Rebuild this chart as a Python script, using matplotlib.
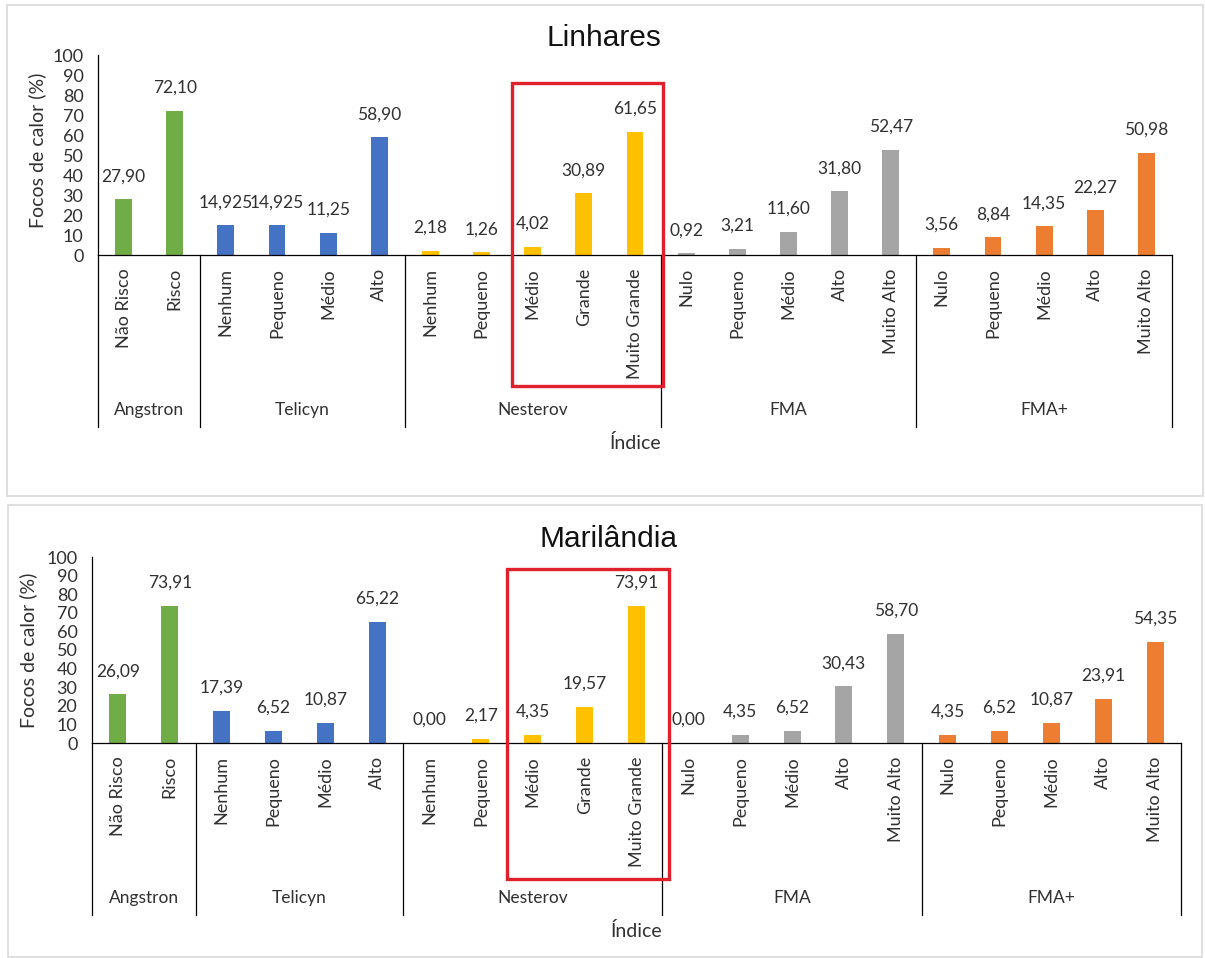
import matplotlib
matplotlib.use("Agg")
import matplotlib.pyplot as plt
from matplotlib.patches import Rectangle
from matplotlib.lines import Line2D

# ---- data -------------------------------------------------------------
groups = ["Angstron", "Telicyn", "Nesterov", "FMA", "FMA+"]
group_classes = [
    ["Não Risco", "Risco"],
    ["Nenhum", "Pequeno", "Médio", "Alto"],
    ["Nenhum", "Pequeno", "Médio", "Grande", "Muito Grande"],
    ["Nulo", "Pequeno", "Médio", "Alto", "Muito Alto"],
    ["Nulo", "Pequeno", "Médio", "Alto", "Muito Alto"],
]
group_colors = ["#70AD47", "#4472C4", "#FFC000", "#A5A5A5", "#ED7D31"]

linhares = [
    [27.90, 72.10],
    [14.925, 14.925, 11.25, 58.90],
    [2.18, 1.26, 4.02, 30.89, 61.65],
    [0.92, 3.21, 11.60, 31.80, 52.47],
    [3.56, 8.84, 14.35, 22.27, 50.98],
]
marilandia = [
    [26.09, 73.91],
    [17.39, 6.52, 10.87, 65.22],
    [0.00, 2.17, 4.35, 19.57, 73.91],
    [0.00, 4.35, 6.52, 30.43, 58.70],
    [4.35, 6.52, 10.87, 23.91, 54.35],
]
y_ticks = list(range(0, 101, 10))

# highlighted Nesterov classes (Médio .. Muito Grande)
highlight_first, highlight_last = 8, 10

# ---- layout -----------------------------------------------------------
W, H, DPI = 1205, 958, 100
TXT = "#303030"
BODY_FONT = ["Lato", "DejaVu Sans"]
TITLE_FONT = ["Liberation Sans", "DejaVu Sans"]

fig = plt.figure(figsize=(W / DPI, H / DPI), dpi=DPI, facecolor="white")


def fmt(v):
    dec = 2 if abs(round(v, 2) - v) < 1e-9 else 3
    return f"{v:.{dec}f}".replace(".", ",")


def frame(x0, y0, x1, y1):
    fig.patches.append(Rectangle((x0 / W, 1 - y1 / H), (x1 - x0) / W, (y1 - y0) / H,
                                 transform=fig.transFigure, fill=False,
                                 edgecolor="#D9D9D9", linewidth=1.2))


def panel(title, values, left, right, y0, y100, title_xy, ylab_xy, box):
    hpx = y0 - y100
    ax = fig.add_axes([left / W, 1 - y0 / H, (right - left) / W, hpx / H])
    cats = [c for g in group_classes for c in g]
    vals = [v for g in values for v in g]
    cols = [group_colors[i] for i, g in enumerate(group_classes) for _ in g]
    xs = list(range(len(cats)))
    ax.bar(xs, vals, width=0.33, color=cols, zorder=2)
    ax.set_xlim(-0.5, len(cats) - 0.5)
    ax.set_ylim(0, 100)
    ax.set_yticks(y_ticks)
    ax.set_yticklabels([str(t) for t in y_ticks], fontsize=13, color=TXT,
                       family=BODY_FONT)
    ax.set_xticks(xs)
    ax.set_xticklabels(cats, rotation=90, fontsize=13, color=TXT,
                       family=BODY_FONT, va="top", ha="center")
    ax.tick_params(axis="both", length=0)
    ax.tick_params(axis="y", pad=10.5)
    ax.tick_params(axis="x", pad=9.5)
    for s in ("top", "right"):
        ax.spines[s].set_visible(False)
    for s in ("left", "bottom"):
        ax.spines[s].set_color("black")
        ax.spines[s].set_linewidth(0.9)

    # value labels
    for x, v in zip(xs, vals):
        ax.annotate(fmt(v), (x, v), xytext=(0, 18), textcoords="offset pixels",
                    ha="center", va="baseline", fontsize=12.5, color=TXT,
                    family=BODY_FONT)

    # group separators and group names
    tr = ax.get_xaxis_transform()
    bounds = [-0.5]
    for g in group_classes:
        bounds.append(bounds[-1] + len(g))
    for b in bounds:
        ax.add_line(Line2D([b, b], [0, -172 / hpx], transform=tr, color="black",
                           linewidth=0.9, clip_on=False))
    for i, name in enumerate(groups):
        ax.text((bounds[i] + bounds[i + 1]) / 2, -155 / hpx, name, transform=tr,
                ha="center", va="center", fontsize=12.5, color=TXT,
                family=BODY_FONT)
    ax.text(0.5, -188 / hpx, "Índice", transform=ax.transAxes, ha="center",
            va="center", fontsize=14, color=TXT, family=BODY_FONT)

    # highlight box around the large Nesterov classes
    bx0, by0, bx1, by1 = box
    ax.add_patch(Rectangle((bx0, by0), bx1 - bx0, by1 - by0, fill=False,
                           edgecolor="#E0202B", linewidth=2.4, clip_on=False,
                           zorder=5))

    fig.text(title_xy[0] / W, 1 - title_xy[1] / H, title, ha="center",
             va="center", fontsize=21.5, color="#111111", family=TITLE_FONT)
    fig.text(ylab_xy[0] / W, 1 - ylab_xy[1] / H, "Focos de calor (%)",
             rotation=90, ha="center", va="center", fontsize=14, color=TXT,
             family=BODY_FONT)
    return ax


frame(7, 5, 1203, 496)
frame(8, 505, 1202, 957)

panel("Linhares", linhares, 98, 1172, 255, 55, (604, 38), (37, 150),
      (highlight_first - 0.41, -65.5, highlight_last + 0.55, 86))
panel("Marilândia", marilandia, 92, 1181, 743, 557, (608, 539), (28, 650),
      (highlight_first - 0.5, -73.1, highlight_last + 0.63, 93.5))

fig.savefig("out.png", dpi=DPI, facecolor="white")
